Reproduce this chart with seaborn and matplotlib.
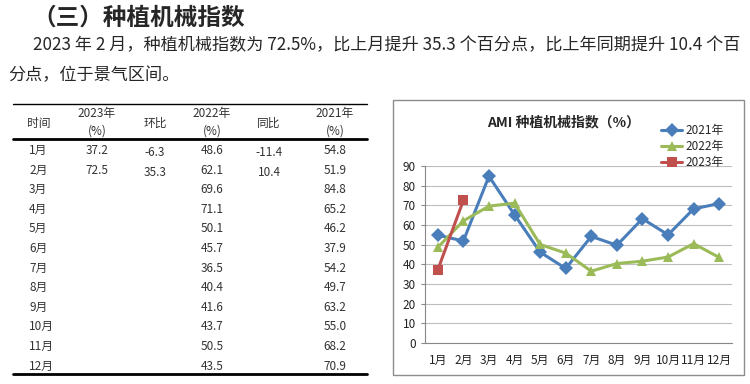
import matplotlib.pyplot as plt
import numpy as np
import pandas as pd
import seaborn as sns
from matplotlib.patches import Rectangle

# data
months = ['1月', '2月', '3月', '4月', '5月', '6月', '7月', '8月', '9月', '10月', '11月', '12月']
v2021 = [54.8, 51.9, 84.8, 65.2, 46.2, 37.9, 54.2, 49.7, 63.2, 55.0, 68.2, 70.9]
v2022 = [48.6, 62.1, 69.6, 71.1, 50.1, 45.7, 36.5, 40.4, 41.6, 43.7, 50.5, 43.5]
v2023 = [37.2, 72.5]
mom_2023 = [-6.3, 35.3]     # 环比
yoy_2023 = [-11.4, 10.4]    # 同比

heading = '（三）种植机械指数'
para1 = '2023 年 2 月，种植机械指数为 72.5%，比上月提升 35.3 个百分点，比上年同期提升 10.4 个百'
para2 = '分点，位于景气区间。'
chart_title = 'AMI 种植机械指数（%）'

sns.set_style('white')
plt.rcParams['font.family'] = ['Noto Sans CJK SC', 'DejaVu Sans']

fig = plt.figure(figsize=(7.5, 3.84), dpi=100)

# page layer in pixel coordinates
bg = fig.add_axes([0, 0, 1, 1])
bg.set_xlim(0, 750)
bg.set_ylim(384, 0)
bg.axis('off')

bg.text(32, 18, heading, fontsize=17, fontweight='bold', va='center', ha='left')
bg.text(33, 45, para1, fontsize=12.3, va='center', ha='left')
bg.text(8, 75, para2, fontsize=12.3, va='center', ha='left')

# table
tc = '#333333'
col_x = [97, 155, 212, 269, 335]
bg.plot([13, 367], [104, 104], color='black', lw=1.0)
bg.plot([13, 367], [139, 139], color='black', lw=2.0)
bg.plot([13, 367], [374, 374], color='black', lw=2.0)
bg.text(39, 123, '时间', fontsize=8.5, color=tc, ha='center', va='center')
bg.text(155, 123, '环比', fontsize=8.5, color=tc, ha='center', va='center')
bg.text(269, 123, '同比', fontsize=8.5, color=tc, ha='center', va='center')
for x, yr in zip([97, 212, 335], ['2023年', '2022年', '2021年']):
    bg.text(x, 114, yr, fontsize=8.5, color=tc, ha='center', va='center')
    bg.text(x, 131, '(%)', fontsize=8.5, color=tc, ha='center', va='center')

row_y = 150.5
for i, m in enumerate(months):
    y = row_y + i * 19.6
    bg.text(29, y, m, fontsize=8.5, color=tc, ha='left', va='center')
    if i < len(v2023):
        bg.text(col_x[0], y, f'{v2023[i]:.1f}', fontsize=8.5, color=tc, ha='center', va='center')
        bg.text(col_x[1], y + 2, f'{mom_2023[i]:.1f}', fontsize=8.5, color=tc, ha='center', va='center')
        bg.text(col_x[3], y + 2, f'{yoy_2023[i]:.1f}', fontsize=8.5, color=tc, ha='center', va='center')
    bg.text(col_x[2], y, f'{v2022[i]:.1f}', fontsize=8.5, color=tc, ha='center', va='center')
    bg.text(col_x[4], y, f'{v2021[i]:.1f}', fontsize=8.5, color=tc, ha='center', va='center')

# chart frame
bg.add_patch(Rectangle((393, 100), 351, 275, fill=False, edgecolor='#8c8c8c', lw=1.0))

# chart
df = pd.concat([
    pd.DataFrame({'month': np.arange(1, len(v2021) + 1), 'value': v2021, 'year': '2021年'}),
    pd.DataFrame({'month': np.arange(1, len(v2022) + 1), 'value': v2022, 'year': '2022年'}),
    pd.DataFrame({'month': np.arange(1, len(v2023) + 1), 'value': v2023, 'year': '2023年'}),
])
palette = {'2021年': '#4A7EBB', '2022年': '#9BBB59', '2023年': '#C0504D'}
marks = {'2021年': 'D', '2022年': '^', '2023年': 's'}

ax = fig.add_axes([425 / 750, 1 - 343 / 384, 307 / 750, 177 / 384])
sns.lineplot(data=df, x='month', y='value', hue='year', style='year', palette=palette,
             markers=marks, dashes=False, linewidth=2.2, markersize=7,
             markeredgewidth=0, ax=ax)

ax.set_xlim(0.5, 12.5)
ax.set_ylim(0, 90)
ax.set_yticks(range(0, 91, 10))
ax.set_xticks(range(1, 13))
ax.set_xticklabels(months)
ax.set_xticks(np.arange(0.5, 13, 1), minor=True)
ax.tick_params(axis='x', which='major', length=0, labelsize=8.5, pad=8, colors='#222222')
ax.tick_params(axis='x', which='minor', length=4, color='#888888', direction='out')
ax.tick_params(axis='y', length=3, color='#888888', labelsize=8.5, colors='#222222', left=True)
ax.yaxis.grid(True, color='#bdbdbd', lw=0.8)
ax.set_axisbelow(True)
for s in ['top', 'right']:
    ax.spines[s].set_visible(False)
for s in ['left', 'bottom']:
    ax.spines[s].set_color('#888888')
    ax.spines[s].set_linewidth(0.8)
ax.set_xlabel('')
ax.set_ylabel('')

fig.text(564 / 750, 1 - 122 / 384, chart_title, fontsize=10, fontweight='bold',
         ha='center', va='center')

ax.legend(loc='upper left', bbox_to_anchor=(655 / 750, 1 - 118 / 384),
          bbox_transform=fig.transFigure, frameon=False, fontsize=8.5,
          handlelength=1.8, handletextpad=0.3, labelspacing=0.25, borderpad=0)

fig.savefig('out.png', dpi=100)
